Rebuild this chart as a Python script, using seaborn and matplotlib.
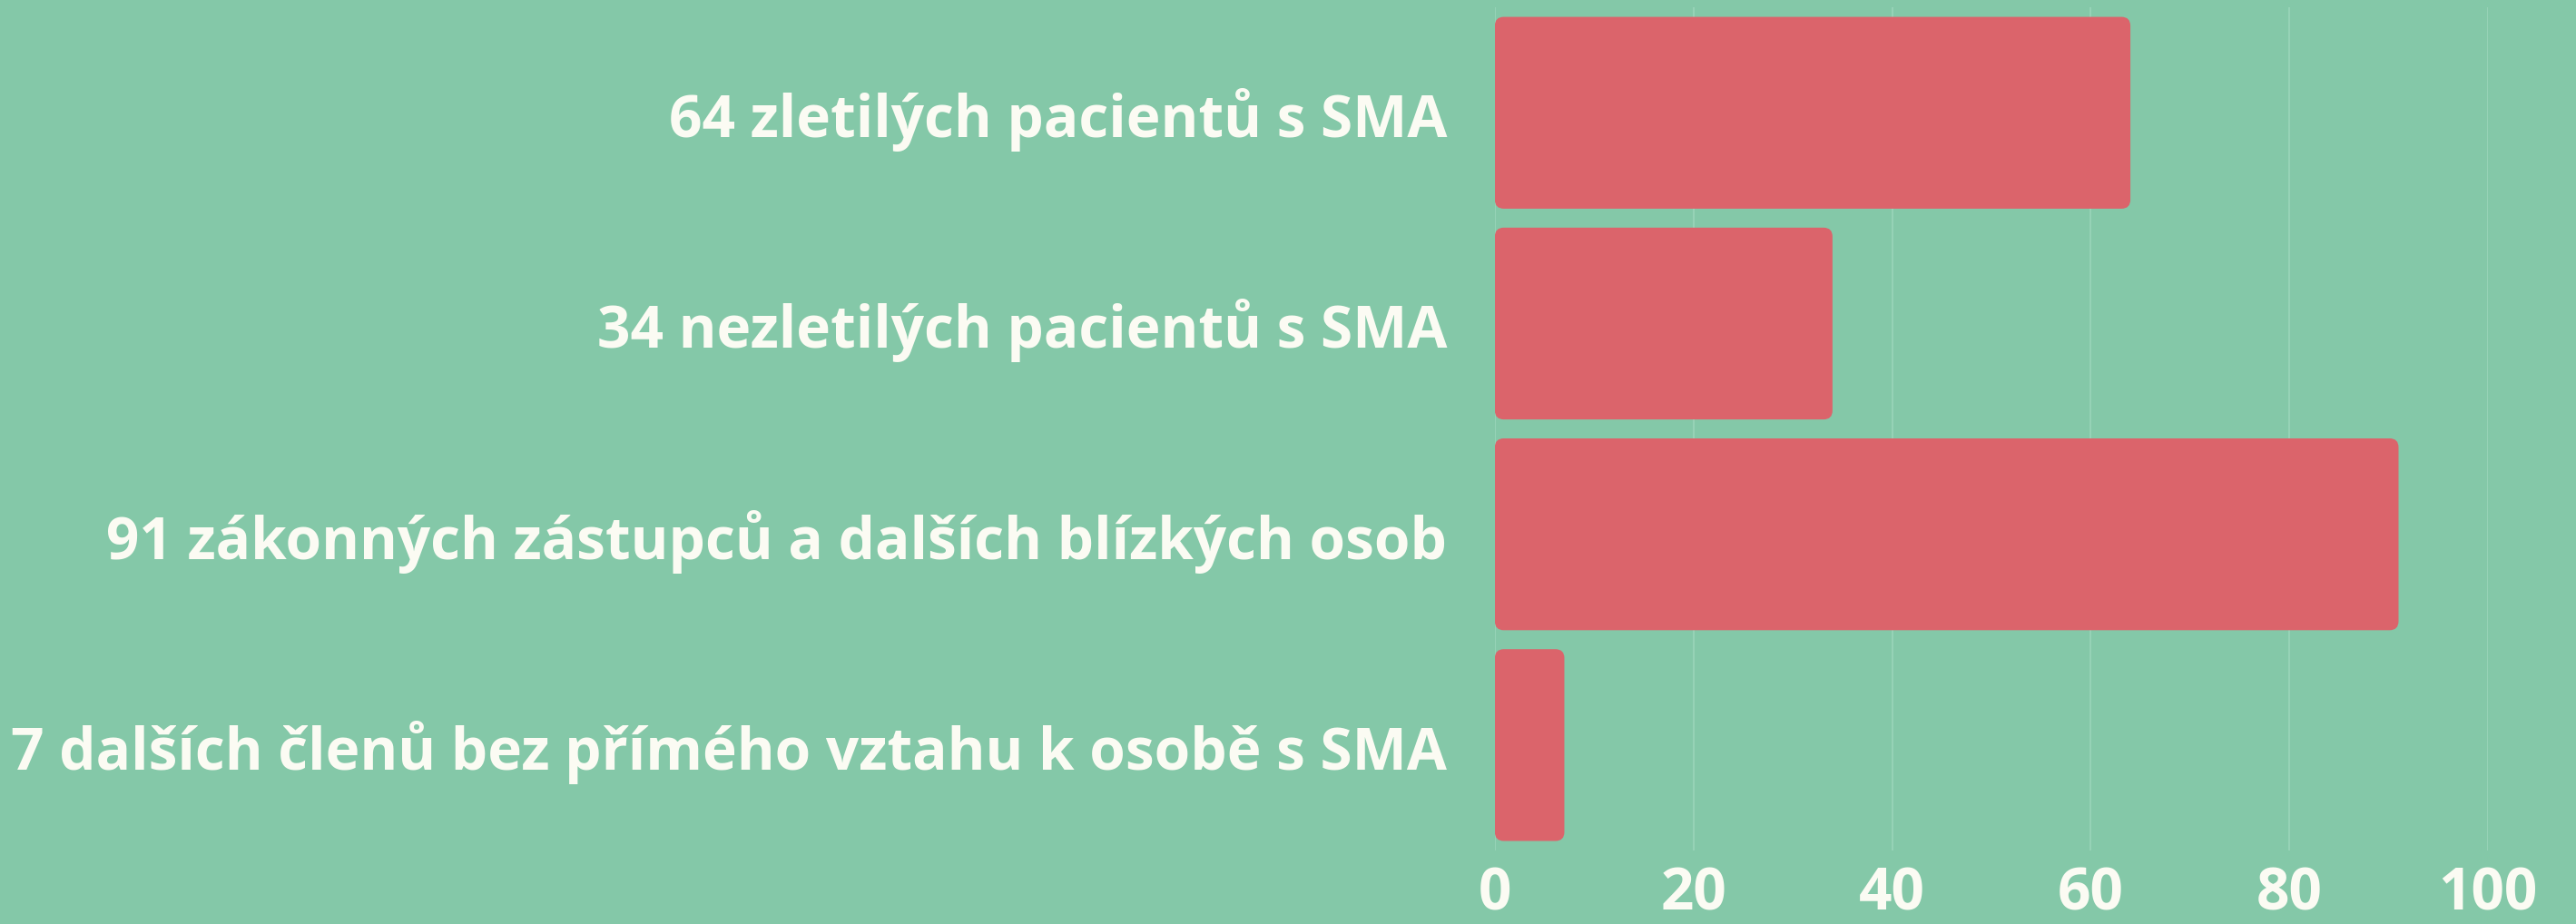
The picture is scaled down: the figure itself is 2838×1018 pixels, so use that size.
import seaborn as sns
import matplotlib.pyplot as plt
import pandas as pd
from matplotlib.patches import FancyBboxPatch

# data
labels = ['64 zletilých pacientů s SMA',
          '34 nezletilých pacientů s SMA',
          '91 zákonných zástupců a dalších blízkých osob',
          '7 dalších členů bez přímého vztahu k osobě s SMA']
counts = [64, 34, 91, 7]
xticks = [0, 20, 40, 60, 80, 100]

bg = '#84c8a8'
bar_color = '#db646b'
txt = '#fbfbf3'

sns.set_style('white')
plt.rcParams['font.family'] = ['Open Sans', 'DejaVu Sans']

df = pd.DataFrame({'label': labels, 'count': counts})

fig = plt.figure(figsize=(28.38, 10.18), dpi=100, facecolor=bg)
ax = fig.add_axes([0.5803, 0.0796, 0.3855, 0.9124])
ax.set_facecolor(bg)

sns.barplot(data=df, x='count', y='label', orient='h', color=bar_color,
            saturation=1, width=0.91, ax=ax, zorder=3)

# swap plain rectangles for slightly rounded ones
for p in list(ax.patches):
    x, y = p.get_x(), p.get_y()
    w, h = p.get_width(), p.get_height()
    fb = FancyBboxPatch((x, y), w, h, boxstyle='round,pad=0,rounding_size=0.9',
                        mutation_aspect=0.047, facecolor=bar_color,
                        edgecolor='none', zorder=3)
    p.remove()
    ax.add_patch(fb)

ax.set_xlim(0, 100)
ax.set_xticks(xticks)
ax.xaxis.grid(True, color='#96d2b6', linewidth=1.5, zorder=0)
ax.set_axisbelow(True)
for s in ax.spines.values():
    s.set_visible(False)

ax.set_xlabel('')
ax.set_ylabel('')
ax.tick_params(axis='y', length=0, pad=38, labelsize=46, labelcolor=txt)
ax.tick_params(axis='x', length=0, pad=12, labelsize=46, labelcolor=txt)
for t in ax.get_yticklabels() + ax.get_xticklabels():
    t.set_fontweight('bold')

fig.savefig('out.png', dpi=100, facecolor=bg)
